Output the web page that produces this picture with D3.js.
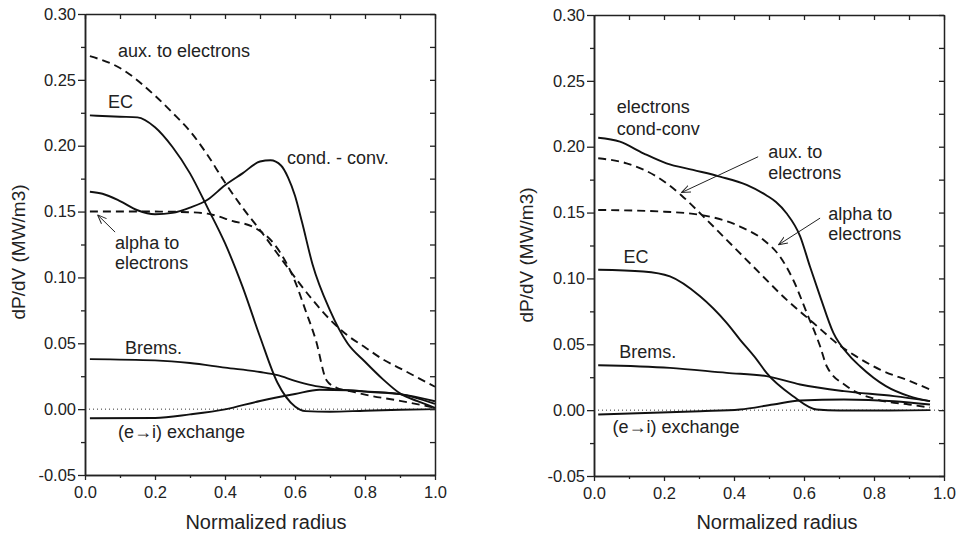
<html>
<head>
    <title> Electron power density profiles </title>
    <style>
        body {
            margin: 0;
            background: #fff;
        }

        svg text {
            font-family: "Liberation Sans", Arial, Helvetica, sans-serif;
            fill: #222;
        }
    </style>
</head>
<script src="https://d3js.org/d3.v7.min.js"></script>
<body>
    <svg id="main-svg" width="958" height="537" xmlns="http://www.w3.org/2000/svg"></svg>

    <script>
        // tick labels (shared by both panels)
        const xTicks = [0, 0.2, 0.4, 0.6, 0.8, 1.0];
        const xMinor = [0.1, 0.3, 0.5, 0.7, 0.9];
        const yTicks = [-0.05, 0, 0.05, 0.10, 0.15, 0.20, 0.25, 0.30];
        const yMinor = [-0.025, 0.025, 0.075, 0.125, 0.175, 0.225, 0.275];

        // ---- left panel ----
        const auxLeftR = [0.014, 0.1, 0.2, 0.25, 0.3, 0.35, 0.4, 0.45, 0.5, 0.55, 0.6, 0.65, 0.7, 0.75, 0.8, 0.85, 0.9, 0.95, 1.0];
        const auxLeftV = [0.268, 0.259, 0.238, 0.225, 0.211, 0.193, 0.172, 0.153, 0.136, 0.118, 0.100, 0.083, 0.068, 0.056, 0.047, 0.038, 0.031, 0.024, 0.017];

        const alphaLeftR = [0.014, 0.1, 0.2, 0.3, 0.35, 0.42, 0.49, 0.54, 0.6, 0.63, 0.66, 0.69, 0.72, 0.76, 0.8, 0.9, 1.0];
        const alphaLeftV = [0.150, 0.150, 0.150, 0.1495, 0.1484, 0.143, 0.137, 0.1255, 0.097, 0.075, 0.052, 0.022, 0.016, 0.0135, 0.011, 0.0063, 0.001];

        const ecLeftR = [0.014, 0.1, 0.15, 0.2, 0.25, 0.3, 0.35, 0.4, 0.45, 0.5, 0.55, 0.6, 0.63, 0.7, 0.8, 0.9, 1.0];
        const ecLeftV = [0.223, 0.222, 0.2215, 0.214, 0.199, 0.179, 0.153, 0.126, 0.093, 0.055, 0.020, 0.002, -0.0015, -0.002, -0.0012, -0.0005, 0.0];

        const condLeftR = [0.014, 0.05, 0.1, 0.15, 0.2, 0.25, 0.3, 0.35, 0.4, 0.45, 0.5, 0.53, 0.56, 0.58, 0.6, 0.62, 0.65, 0.7, 0.75, 0.8, 0.85, 0.9, 0.95, 1.0];
        const condLeftV = [0.165, 0.1635, 0.158, 0.151, 0.148, 0.149, 0.153, 0.159, 0.170, 0.179, 0.188, 0.189, 0.185, 0.176, 0.162, 0.142, 0.110, 0.075, 0.050, 0.036, 0.023, 0.012, 0.006, 0.001];

        const bremsLeftR = [0.014, 0.2, 0.3, 0.4, 0.5, 0.55, 0.6, 0.65, 0.7, 0.8, 0.9, 1.0];
        const bremsLeftV = [0.038, 0.037, 0.035, 0.0315, 0.0282, 0.0258, 0.0215, 0.018, 0.0158, 0.0133, 0.0114, 0.006];

        const exchLeftR = [0.014, 0.2, 0.3, 0.4, 0.5, 0.6, 0.67, 0.75, 0.8, 0.9, 1.0];
        const exchLeftV = [-0.0069, -0.0067, -0.004, -0.0002, 0.0062, 0.0115, 0.0147, 0.0143, 0.0135, 0.0114, 0.004];

        // ---- right panel ----
        const condRightR = [0.012, 0.074, 0.141, 0.207, 0.283, 0.36, 0.436, 0.493, 0.52, 0.55, 0.589, 0.617, 0.646, 0.684, 0.731, 0.76, 0.834, 0.9, 0.96];
        const condRightV = [0.2068, 0.2038, 0.195, 0.1874, 0.1824, 0.1773, 0.171, 0.163, 0.158, 0.1495, 0.132, 0.109, 0.0864, 0.0586, 0.041, 0.0333, 0.0182, 0.0106, 0.0068];

        const auxRightR = [0.012, 0.093, 0.179, 0.25, 0.303, 0.379, 0.455, 0.55, 0.627, 0.693, 0.748, 0.817, 0.903, 0.96];
        const auxRightV = [0.1912, 0.1874, 0.1773, 0.163, 0.1495, 0.1293, 0.109, 0.0839, 0.0662, 0.051, 0.041, 0.0308, 0.022, 0.0157];

        const alphaRightR = [0.012, 0.189, 0.303, 0.417, 0.484, 0.531, 0.569, 0.608, 0.646, 0.665, 0.722, 0.808, 0.9, 0.96];
        const alphaRightV = [0.152, 0.1508, 0.1483, 0.1394, 0.1293, 0.1167, 0.099, 0.0738, 0.0485, 0.0333, 0.0182, 0.0081, 0.0043, 0.002];

        const ecRightR = [0.012, 0.141, 0.217, 0.303, 0.379, 0.417, 0.465, 0.493, 0.569, 0.636, 0.7, 0.8, 0.9, 0.96];
        const ecRightV = [0.1066, 0.1053, 0.1015, 0.0864, 0.0662, 0.0536, 0.0384, 0.0283, 0.0106, 0.0005, -0.0003, -0.0003, -0.0002, 0.0];

        const bremsRightR = [0.012, 0.217, 0.379, 0.493, 0.589, 0.714, 0.857, 0.96];
        const bremsRightV = [0.0341, 0.0321, 0.0283, 0.0258, 0.0195, 0.0144, 0.0106, 0.0068];

        const exchRightR = [0.012, 0.303, 0.417, 0.512, 0.589, 0.714, 0.857, 0.96];
        const exchRightV = [-0.0033, -0.0008, 0.0005, 0.0043, 0.0073, 0.0081, 0.0068, 0.0043];

        const zip = (r, v) => r.map((d, i) => [d, v[i]]);

        const svg = d3.select("#main-svg");

        // open arrow head for the annotation pointers
        svg.append("defs").append("marker")
            .attr("id", "arrow")
            .attr("viewBox", "0 -5 10 10")
            .attr("refX", 10)
            .attr("refY", 0)
            .attr("markerUnits", "userSpaceOnUse")
            .attr("markerWidth", 9)
            .attr("markerHeight", 9)
            .attr("orient", "auto")
            .append("path")
            .attr("d", "M0,-4L10,0L0,4")
            .attr("fill", "none")
            .attr("stroke", "#222")
            .attr("stroke-width", 1.1);

        function drawPanel(p) {
            const x = d3.scaleLinear().domain([0, 1]).range([p.left, p.right]);
            const y = d3.scaleLinear().domain([-0.05, 0.30]).range([p.bottom, p.top]);
            const g = svg.append("g");

            // zero reference, dotted
            g.append("line")
                .attr("x1", x(0)).attr("x2", x(1))
                .attr("y1", y(0)).attr("y2", y(0))
                .attr("stroke", "#333")
                .attr("stroke-width", 1)
                .attr("stroke-dasharray", "1,3");

            const line = d3.line()
                .x(d => x(d[0]))
                .y(d => y(d[1]))
                .curve(d3.curveMonotoneX);

            p.curves.forEach(c => {
                g.append("path")
                    .attr("d", line(c.pts))
                    .attr("fill", "none")
                    .attr("stroke", "#111")
                    .attr("stroke-width", 1.9)
                    .attr("stroke-dasharray", c.dashed ? "8,5" : null);
            });

            // axes: left & bottom outward, top & right inward
            const fontSize = "16.5px";
            const styleAxis = sel => {
                sel.select(".domain").attr("stroke", "#222").attr("stroke-width", 1.5);
                sel.selectAll(".tick line").attr("stroke", "#222").attr("stroke-width", 1.3);
                sel.selectAll(".tick text").style("font-size", fontSize).attr("fill", "#222");
            };

            g.append("g")
                .attr("transform", `translate(0,${p.bottom})`)
                .call(d3.axisBottom(x).tickValues(xTicks).tickSize(5).tickSizeOuter(0).tickPadding(6)
                    .tickFormat(d => d.toFixed(1)))
                .call(styleAxis);
            g.append("g")
                .attr("transform", `translate(0,${p.bottom})`)
                .call(d3.axisBottom(x).tickValues(xMinor).tickSize(3).tickSizeOuter(0).tickFormat(""))
                .call(styleAxis);

            g.append("g")
                .attr("transform", `translate(${p.left},0)`)
                .call(d3.axisLeft(y).tickValues(yTicks).tickSize(7).tickSizeOuter(0).tickPadding(2)
                    .tickFormat(d => d.toFixed(2)))
                .call(styleAxis);
            g.append("g")
                .attr("transform", `translate(${p.left},0)`)
                .call(d3.axisLeft(y).tickValues(yMinor).tickSize(4).tickSizeOuter(0).tickFormat(""))
                .call(styleAxis);

            g.append("g")
                .attr("transform", `translate(0,${p.top})`)
                .call(d3.axisTop(x).tickValues(xTicks.concat(xMinor)).tickSize(-5).tickSizeOuter(0).tickFormat(""))
                .call(styleAxis);
            g.append("g")
                .attr("transform", `translate(${p.right},0)`)
                .call(d3.axisRight(y).tickValues(yTicks.concat(yMinor)).tickSize(-5).tickSizeOuter(0).tickFormat(""))
                .call(styleAxis);

            // axis titles
            g.append("text")
                .attr("x", p.xTitleX)
                .attr("y", 529)
                .attr("text-anchor", "middle")
                .style("font-size", "20px")
                .text("Normalized radius");

            g.append("text")
                .attr("transform", `translate(${p.yTitleX},${p.yTitleY}) rotate(-90)`)
                .attr("text-anchor", "middle")
                .style("font-size", "19px")
                .text("dP/dV (MW/m3)");

            // curve annotations, placed in data units
            p.labels.forEach(l => {
                g.append("text")
                    .attr("x", x(l.r))
                    .attr("y", y(l.v))
                    .style("font-size", "18px")
                    .text(l.text);
            });

            p.arrows.forEach(a => {
                g.append("line")
                    .attr("x1", x(a.from[0])).attr("y1", y(a.from[1]))
                    .attr("x2", x(a.to[0])).attr("y2", y(a.to[1]))
                    .attr("stroke", "#222")
                    .attr("stroke-width", 1)
                    .attr("marker-end", "url(#arrow)");
            });
        }

        drawPanel({
            left: 85, right: 435, top: 14, bottom: 475,
            xTitleX: 266, yTitleX: 25, yTitleY: 252,
            curves: [
                { pts: zip(auxLeftR, auxLeftV), dashed: true },
                { pts: zip(alphaLeftR, alphaLeftV), dashed: true },
                { pts: zip(ecLeftR, ecLeftV) },
                { pts: zip(condLeftR, condLeftV) },
                { pts: zip(bremsLeftR, bremsLeftV) },
                { pts: zip(exchLeftR, exchLeftV) }
            ],
            labels: [
                { text: "aux. to electrons", r: 0.094, v: 0.2673 },
                { text: "EC", r: 0.066, v: 0.2285 },
                { text: "cond. - conv.", r: 0.577, v: 0.1859 },
                { text: "alpha to", r: 0.086, v: 0.1217 },
                { text: "electrons", r: 0.086, v: 0.1065 },
                { text: "Brems.", r: 0.114, v: 0.042 },
                { text: "(e\u2192i) exchange", r: 0.094, v: -0.0218 }
            ],
            arrows: [
                { from: [0.086, 0.1344], to: [0.036, 0.1475] }
            ]
        });

        drawPanel({
            left: 594, right: 944, top: 15, bottom: 476,
            xTitleX: 777, yTitleX: 533, yTitleY: 255,
            curves: [
                { pts: zip(condRightR, condRightV) },
                { pts: zip(auxRightR, auxRightV), dashed: true },
                { pts: zip(alphaRightR, alphaRightV), dashed: true },
                { pts: zip(ecRightR, ecRightV) },
                { pts: zip(bremsRightR, bremsRightV) },
                { pts: zip(exchRightR, exchRightV) }
            ],
            labels: [
                { text: "electrons", r: 0.065, v: 0.2255 },
                { text: "cond-conv", r: 0.065, v: 0.2089 },
                { text: "aux. to", r: 0.498, v: 0.1912 },
                { text: "electrons", r: 0.498, v: 0.1755 },
                { text: "alpha to", r: 0.669, v: 0.1445 },
                { text: "electrons", r: 0.669, v: 0.1293 },
                { text: "EC", r: 0.084, v: 0.1117 },
                { text: "Brems.", r: 0.072, v: 0.0397 },
                { text: "(e\u2192i) exchange", r: 0.053, v: -0.0171 }
            ],
            arrows: [
                { from: [0.469, 0.1924], to: [0.250, 0.1652] },
                { from: [0.646, 0.1458], to: [0.527, 0.1255] }
            ]
        });
    </script>
</body>
</html>
